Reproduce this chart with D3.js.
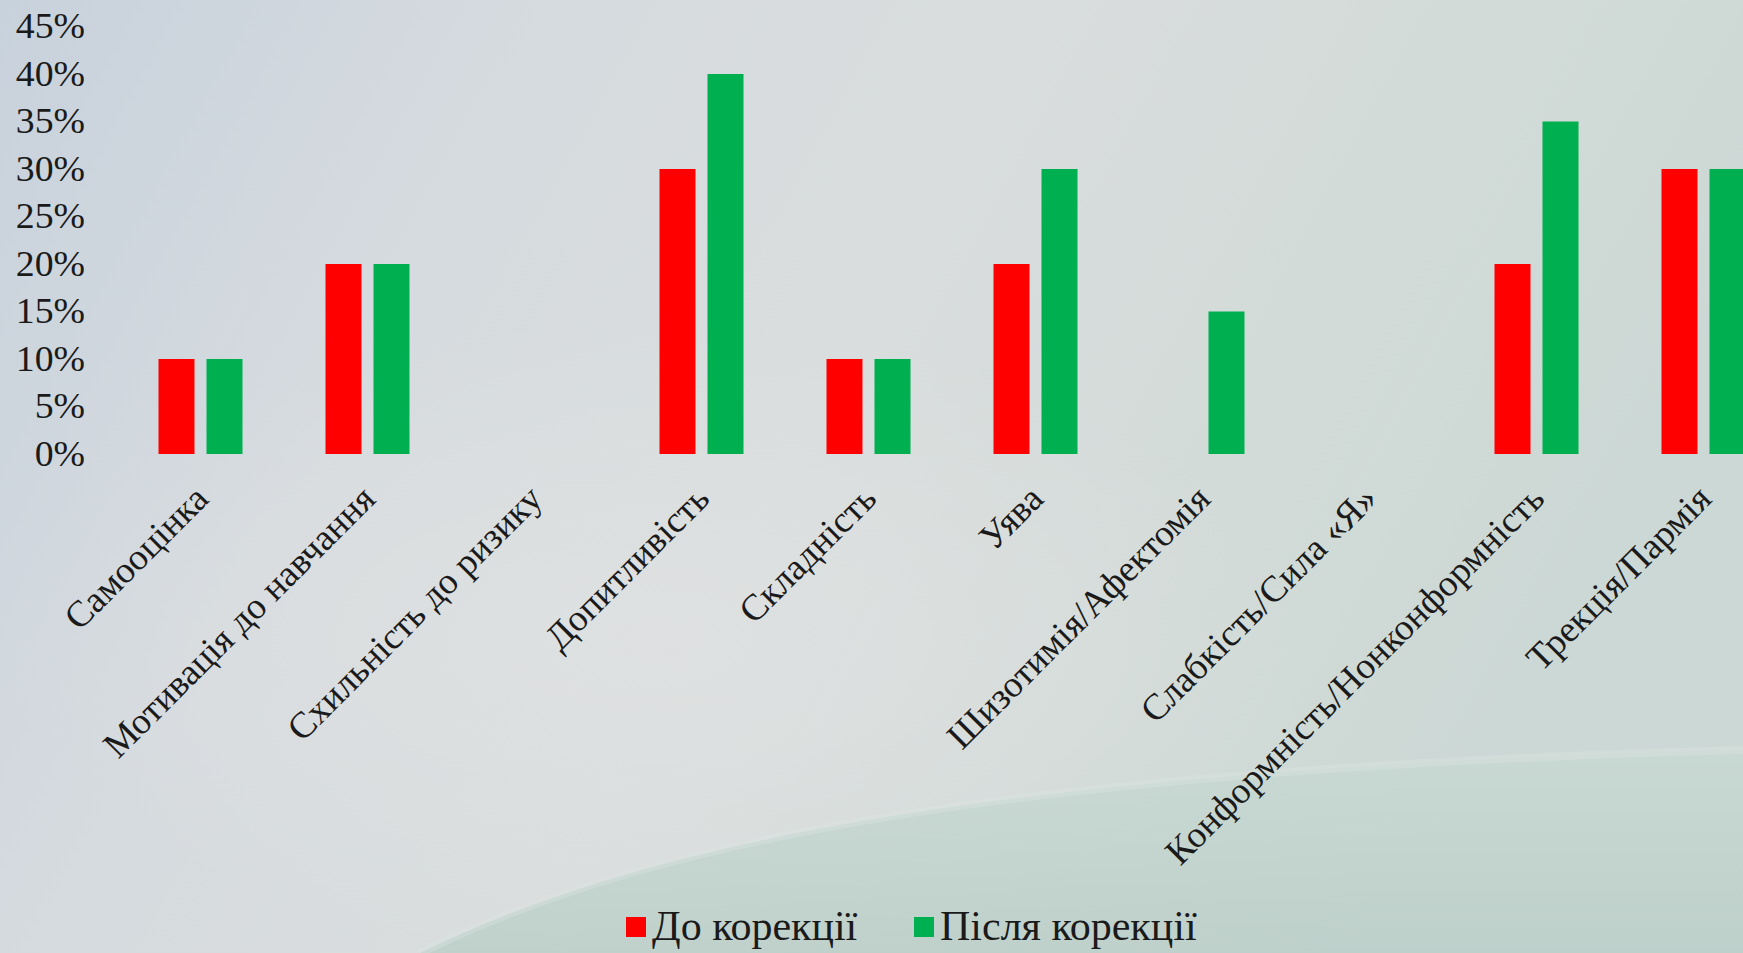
<!DOCTYPE html>
<html>
<head>
<meta charset="utf-8">
<script src="https://cdn.jsdelivr.net/npm/d3@7"></script>
<style>
  html, body { margin: 0; padding: 0; overflow: hidden; }
  svg { display: block; }
  text { font-family: 'Liberation Serif', 'Times New Roman', serif; fill: #1a1a1a; }
</style>
</head>
<body>
<svg id="chart" width="1743" height="953"></svg>
<script>
const categories = [
  "Самооцінка",
  "Мотивація до навчання",
  "Схильність до ризику",
  "Допитливість",
  "Складність",
  "Уява",
  "Шизотимія/Афектомія",
  "Слабкість/Сила «Я»",
  "Конформність/Нонконформність",
  "Трекція/Пармія"
];
const seriesNames = ["До корекції", "Після корекції"];
const beforeValues = [0.10, 0.20, 0.00, 0.30, 0.10, 0.20, 0.00, 0.00, 0.20, 0.30];
const afterValues  = [0.10, 0.20, 0.00, 0.40, 0.10, 0.30, 0.15, 0.00, 0.35, 0.30];
const yTicks = [0, 0.05, 0.10, 0.15, 0.20, 0.25, 0.30, 0.35, 0.40, 0.45];
const seriesColors = ["#ff0000", "#00b050"];

const FONT = "'Liberation Serif', 'Times New Roman', serif";
const W = 1743, H = 953;
const svg = d3.select("#chart");
const defs = svg.append("defs");

// ----- background -----
const g1 = defs.append("linearGradient").attr("id", "bg").attr("x1", 0).attr("y1", 0).attr("x2", 1).attr("y2", 0.3);
[["0", "#c8d2dc"], ["0.3", "#d6dbdf"], ["0.55", "#d9dddd"], ["0.8", "#d2dbd8"], ["1", "#ccd8d5"]]
  .forEach(([o, c]) => g1.append("stop").attr("offset", o).attr("stop-color", c));
svg.append("rect").attr("width", W).attr("height", H).attr("fill", "url(#bg)");

const rg = defs.append("radialGradient").attr("id", "glow").attr("cx", 0.5).attr("cy", 0.5).attr("r", 0.5);
rg.append("stop").attr("offset", "0").attr("stop-color", "#e0e2e2").attr("stop-opacity", 0.8);
rg.append("stop").attr("offset", "1").attr("stop-color", "#e0e2e2").attr("stop-opacity", 0);
svg.append("ellipse").attr("cx", 650).attr("cy", 640).attr("rx", 650).attr("ry", 320).attr("fill", "url(#glow)");

const g2 = defs.append("linearGradient").attr("id", "wave").attr("x1", 0).attr("y1", 0).attr("x2", 0).attr("y2", 1);
g2.append("stop").attr("offset", "0").attr("stop-color", "#c8d8d2");
g2.append("stop").attr("offset", "1").attr("stop-color", "#bccfc9");
svg.append("path")
  .attr("d", "M420,953 C650,840 1000,770 1743,750 L1743,953 Z")
  .attr("fill", "url(#wave)").attr("opacity", 0.85);
svg.append("path")
  .attr("d", "M420,953 C650,840 1000,770 1743,750")
  .attr("fill", "none").attr("stroke", "#dde4e1").attr("stroke-width", 8).attr("opacity", 0.35);

// ----- scales -----
const y = d3.scaleLinear().domain([0, 0.45]).range([454, 26.5]);
const x0 = d3.scaleBand().domain(categories).range([117, 1787]).paddingInner(0).paddingOuter(0);
const x1 = d3.scaleBand().domain(seriesNames).range([-42, 42]).paddingInner(0.25).paddingOuter(0);

// ----- y axis (labels only) -----
const yAxis = d3.axisLeft(y).tickValues(yTicks).tickFormat(d3.format(".0%")).tickSize(0).tickPadding(0);
const ya = svg.append("g").attr("transform", "translate(85,0) scale(1.08,1)").call(yAxis);
ya.select(".domain").remove();
ya.attr("font-family", FONT);
ya.selectAll("text").style("font-family", FONT).style("font-size", "35px").attr("fill", "#1a1a1a");

// ----- bars -----
const data = categories.map((c, i) => ({ cat: c, vals: [beforeValues[i], afterValues[i]] }));
const groups = svg.append("g").selectAll("g").data(data).join("g")
  .attr("transform", d => `translate(${x0(d.cat) + x0.bandwidth() / 2},0)`);
groups.selectAll("rect").data(d => d.vals.map((v, k) => ({ s: seriesNames[k], v, k })))
  .join("rect")
  .attr("x", d => x1(d.s))
  .attr("width", x1.bandwidth())
  .attr("y", d => y(d.v))
  .attr("height", d => y(0) - y(d.v))
  .attr("fill", d => seriesColors[d.k]);

// ----- x axis labels -----
const xAxis = d3.axisBottom(x0).tickSize(0).tickPadding(0);
const xa = svg.append("g").call(xAxis);
xa.select(".domain").remove();
xa.attr("font-family", FONT);
xa.selectAll(".tick").attr("transform", d => `translate(${x0(d) + x0.bandwidth() / 2},0)`);
xa.selectAll("text")
  .attr("x", 0).attr("y", 0).attr("dy", "0.72em")
  .attr("text-anchor", "end")
  .attr("transform", "translate(-9,482) rotate(-45)")
  .style("font-family", FONT).style("font-size", "37px").attr("fill", "#1a1a1a");

// ----- legend -----
const legendX = [626, 914];
const lg = svg.append("g").selectAll("g").data(seriesNames).join("g")
  .attr("transform", (d, i) => `translate(${legendX[i]},0)`);
lg.append("rect").attr("x", 0).attr("y", 917).attr("width", 20).attr("height", 20).attr("fill", (d, i) => seriesColors[i]);
lg.append("text").attr("x", 26).attr("y", 940).text(d => d).style("font-family", FONT).style("font-size", "42px");
</script>
</body>
</html>
